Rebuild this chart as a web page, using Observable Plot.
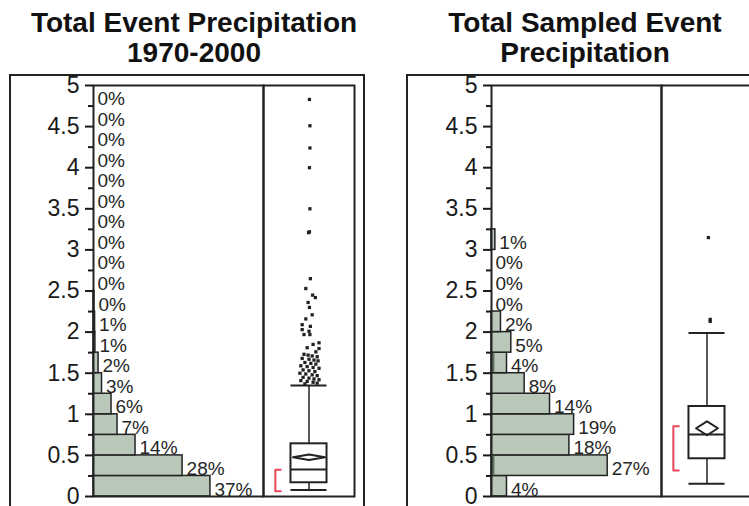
<!DOCTYPE html>
<html><head><meta charset="utf-8">
<script src="https://cdn.jsdelivr.net/npm/d3@7"></script>
<script src="https://cdn.jsdelivr.net/npm/@observablehq/plot@0.6"></script>
<style>
body{margin:0;background:#fff;}
#root{position:relative;width:749px;height:506px;overflow:hidden;font-family:"Liberation Sans",Arial,sans-serif;color:#1a1a1a;background:#fff}
.title{position:absolute;top:8px;width:400px;text-align:center;font-weight:bold;font-size:28px;line-height:30px;color:#111}
.outer{position:absolute;top:74px;width:356px;height:460px;border:2px solid #222;box-sizing:border-box}
.layer{position:absolute;top:0;height:506px}
.layer svg{overflow:visible;display:block;max-width:none !important}
</style></head><body>
<div id="root">
  <div class="title" style="left:-6px">Total Event Precipitation<br>1970-2000</div>
  <div class="title" style="left:385px">Total Sampled Event<br>Precipitation</div>
  <div class="outer" style="left:9px"></div>
  <div class="outer" style="left:406px"></div>
  <div class="layer" id="h1" style="left:0px;width:270px"></div>
  <div class="layer" id="b1" style="left:253px;width:111px"></div>
  <div class="layer" id="h2" style="left:398px;width:270px"></div>
  <div class="layer" id="b2" style="left:651px;width:111px"></div>
</div>
<script>
// ---- data ----
const binLo = [0,0.25,0.5,0.75,1,1.25,1.5,1.75,2,2.25,2.5,2.75,3,3.25,3.5,3.75,4,4.25,4.5,4.75];
const binWidth = 0.25;
const yTicks = [0,0.5,1,1.5,2,2.5,3,3.5,4,4.5,5];
const yMinor = [0.25,0.75,1.25,1.75,2.25,2.75,3.25,3.75,4.25,4.75];

// Total Event Precipitation 1970-2000 (percent of events per bin)
const allPct    = [37,28.2,13.3,7.6,5.7,2.7,1.6,0.6,0.5,0.3,0,0,0,0,0,0,0,0,0,0];
const allLabels = ["37%","28%","14%","7%","6%","3%","2%","1%","1%","0%","0%","0%","0%","0%","0%","0%","0%","0%","0%","0%"];
const allSel    = [0,0,0,0,0,0,0,0,0,0,0,0,0,0,0,0,0,0,0,0];

// Total Sampled Event Precipitation
const sampPct    = [3.6,27,18.1,19.2,13.6,7.7,3.6,4.6,2.2,0,0,0,0.9];
const sampLabels = ["4%","27%","18%","19%","14%","8%","4%","5%","2%","0%","0%","0%","1%"];
const sampSel    = [0,0.8,0,0,0,0,0.8,0,0,0,0,0,0];

// box plot stats: [low whisker, q1, median, q3, high whisker]
const allBox  = [0.08,0.167,0.328,0.641,1.35];
const sampBox = [0.154,0.459,0.754,1.095,1.99];
const allMean = [0.478, 0.033];   // mean, CI half-height
const sampMean = [0.83, 0.085];
const allShortest = [0.064, 0.325];
const sampShortest = [0.316, 0.855];

// outliers: value and horizontal jitter
const allOutVal = [4.83,4.51,4.24,4.00,3.50,3.21,3.22,2.65,2.53,2.45,2.42,2.36,2.30,2.21,2.16,2.09,2.07,2.03,2.01,1.97,1.97,1.87,1.85,1.81,1.80,1.76,1.73,1.72,1.71,1.70,1.68,1.67,1.66,1.65,1.63,1.62,1.61,1.59,1.58,1.57,1.56,1.54,1.53,1.52,1.50,1.49,1.48,1.47,1.45,1.44,1.43,1.42,1.41,1.40,1.39,1.38,1.37];
const allOutJit = [0.01,0.02,0.02,0.01,0.02,-0.01,0.01,0.03,-0.07,0.08,0.14,-0.02,0.01,0.07,-0.07,-0.15,0.03,-0.15,0,-0.11,0.02,0.22,0.09,-0.04,0.22,0.15,-0.11,-0.02,0.07,0.18,-0.15,0,0.11,0.2,-0.09,0.04,0.15,-0.18,-0.04,0.09,0.22,-0.13,0,0.13,-0.2,-0.07,0.07,0.18,-0.13,0,0.11,0.22,-0.18,-0.04,0.09,0.18,-0.09];
const sampOutVal = [3.15,2.155,2.13];
const sampOutJit = [0.03,0.07,0.07];

// ---- drawing ----
const INK = "#222";
const BAR = "#b9c8b9";
const SEL = "#607560";
const RED = "#e8465a";
const baseStyle = {background:"transparent", overflow:"visible", fontFamily:"'Liberation Sans', Arial, sans-serif", color:"#1a1a1a"};

function histPlot(pct, labels, sel, xMax) {
  const rows = pct.map((p,i) => ({lo: binLo[i], hi: binLo[i] + binWidth, p, label: labels[i], s: sel[i]}));
  return Plot.plot({
    width: 270, height: 506,
    marginLeft: 93, marginRight: 7, marginTop: 85, marginBottom: 10,
    x: {domain: [0, xMax], axis: null},
    y: {domain: [0, 5]},
    style: baseStyle,
    marks: [
      Plot.rectX(rows.filter(d => d.p > 0), {x1: 0, x2: "p", y1: "lo", y2: "hi", fill: BAR, stroke: INK, strokeWidth: 1.5}),
      Plot.rectX(rows.filter(d => d.s > 0), {x1: 0, x2: "s", y1: "lo", y2: "hi", fill: SEL, insetTop: 1, insetBottom: 1}),
      Plot.text(rows, {x: "p", y: "lo", text: "label", dx: 4, dy: -1, textAnchor: "start", lineAnchor: "bottom", fontSize: 19, fill: "#262626"}),
      Plot.frame({stroke: INK, strokeWidth: 2}),
      Plot.axisY({ticks: yTicks, tickSize: 8, tickPadding: 6, fontSize: 23, strokeWidth: 2, label: null, tickFormat: d => String(d)}),
      Plot.axisY({ticks: yMinor, tickSize: 5, strokeWidth: 2, label: null, tickFormat: () => ""})
    ]
  });
}

function boxPlot(stats, mean, shortest, outVal, outJit, diamondHalfW) {
  const [lo, q1, med, q3, hi] = stats;
  const bw = 0.396;
  const diamond = [
    {x: -diamondHalfW, y: mean[0]}, {x: 0, y: mean[0] + mean[1]},
    {x: diamondHalfW, y: mean[0]}, {x: 0, y: mean[0] - mean[1]}, {x: -diamondHalfW, y: mean[0]}
  ];
  const bracket = [
    {x: -0.62, y: shortest[1]}, {x: -0.74, y: shortest[1]},
    {x: -0.74, y: shortest[0]}, {x: -0.62, y: shortest[0]}
  ];
  const outs = outVal.map((v,i) => ({v, j: outJit[i]}));
  return Plot.plot({
    width: 111, height: 506,
    marginLeft: 10, marginRight: 10, marginTop: 85, marginBottom: 10,
    x: {domain: [-1, 1], axis: null},
    y: {domain: [0, 5], axis: null},
    style: baseStyle,
    marks: [
      Plot.frame({stroke: INK, strokeWidth: 2}),
      Plot.ruleX([0], {y1: q3, y2: hi, stroke: INK, strokeWidth: 1.5}),
      Plot.ruleX([0], {y1: lo, y2: q1, stroke: INK, strokeWidth: 1.5}),
      Plot.ruleY([lo, hi], {x1: -bw, x2: bw, stroke: INK, strokeWidth: 2}),
      Plot.rect([0], {x1: -bw, x2: bw, y1: q1, y2: q3, fill: "white", stroke: INK, strokeWidth: 2}),
      Plot.ruleY([med], {x1: -bw, x2: bw, stroke: INK, strokeWidth: 2}),
      Plot.line(diamond, {x: "x", y: "y", stroke: INK, strokeWidth: 2}),
      Plot.line(bracket, {x: "x", y: "y", stroke: RED, strokeWidth: 2}),
      Plot.dot(outs, {x: "j", y: "v", symbol: "square", r: 1.85, fill: INK})
    ]
  });
}

document.getElementById("h1").append(histPlot(allPct, allLabels, allSel, 53.8));
document.getElementById("b1").append(boxPlot(allBox, allMean, allShortest, allOutVal, allOutJit, 0.35));
document.getElementById("h2").append(histPlot(sampPct, sampLabels, sampSel, 39.5));
document.getElementById("b2").append(boxPlot(sampBox, sampMean, sampShortest, sampOutVal, sampOutJit, 0.24));
</script>
</body></html>
